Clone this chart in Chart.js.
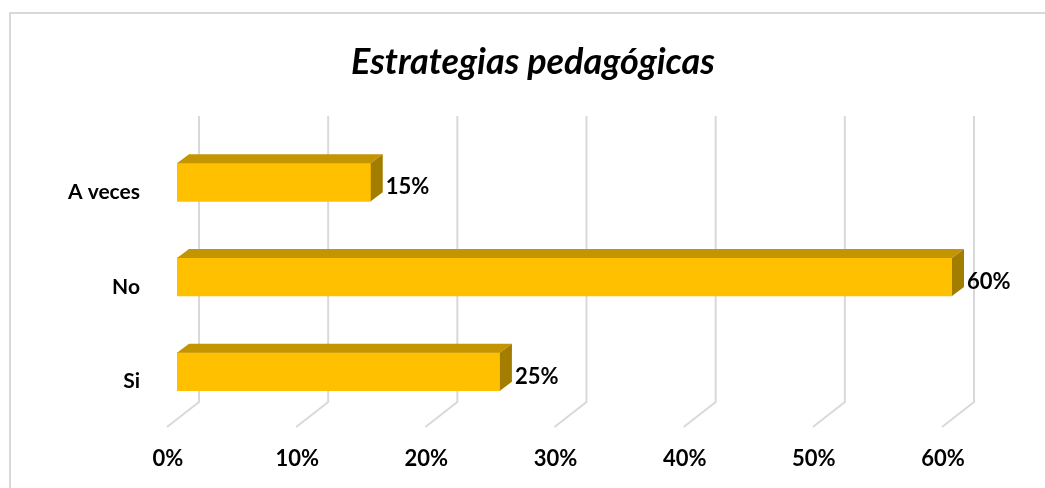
<!DOCTYPE html>
<html>
<head>
<meta charset="utf-8">
<script src="https://cdn.jsdelivr.net/npm/chart.js@4/dist/chart.umd.min.js"></script>
<style>
  html, body { margin: 0; padding: 0; background: #fff; overflow: hidden; }
  #wrap { position: relative; width: 1045px; height: 488px; }
  #frame { position: absolute; left: 9px; top: 12px; width: 1100px; height: 600px; border: 2px solid #d9d9d9; box-sizing: border-box; }
  canvas { position: absolute; left: 0; top: 0; }
</style>
</head>
<body>
<div id="wrap">
  <div id="frame"></div>
  <canvas id="chart" width="1045" height="488"></canvas>
</div>
<script>
  'use strict';

  var CATEGORIES = ['A veces', 'No', 'Si'];
  var VALUES = [15, 60, 25];
  var TICK_VALUES = [0, 10, 20, 30, 40, 50, 60];
  var TITLE = 'Estrategias pedagógicas';

  var FRONT_COLOR = '#FFC000';
  var TOP_COLOR = '#C39500';
  var SIDE_COLOR = '#A37D00';
  var GRID_COLOR = '#d9d9d9';
  var FONT = 'Lato, "Open Sans", sans-serif';

  // depth of the bars and of the back wall, in pixels
  var DEPTH_X = 12, DEPTH_Y = 9;
  var WALL_X = 22;

  // title sits a bit right of the canvas centre, like the original
  var titlePlugin = {
    id: 'title3d',
    afterDraw: function(chart) {
      var ctx = chart.ctx;
      ctx.save();
      ctx.fillStyle = '#000';
      ctx.font = 'italic bold 36px ' + FONT;
      ctx.textAlign = 'center';
      ctx.textBaseline = 'middle';
      ctx.fillText(TITLE, 533, 62);
      ctx.restore();
    }
  };

  // perspective gridlines: back wall + floor diagonal
  var gridPlugin = {
    id: 'grid3d',
    beforeDatasetsDraw: function(chart) {
      var ctx = chart.ctx;
      var area = chart.chartArea;
      var xScale = chart.scales.x;
      ctx.save();
      ctx.strokeStyle = GRID_COLOR;
      ctx.lineWidth = 2;
      TICK_VALUES.forEach(function(v) {
        var px = xScale.getPixelForValue(v) + WALL_X;
        ctx.beginPath();
        ctx.moveTo(px, area.top - 19);
        ctx.lineTo(px, area.bottom - 17);
        ctx.lineTo(px - 32, area.bottom + 8);
        ctx.stroke();
      });
      ctx.restore();
    }
  };

  // top and side faces of every bar, plus the value labels
  var barPlugin = {
    id: 'bars3d',
    afterDatasetsDraw: function(chart) {
      var ctx = chart.ctx;
      var meta = chart.getDatasetMeta(0);
      ctx.save();
      meta.data.forEach(function(bar, i) {
        var top = bar.y - bar.height / 2;
        var bottom = bar.y + bar.height / 2;
        var left = bar.base;
        var right = bar.x;

        ctx.fillStyle = TOP_COLOR;
        ctx.beginPath();
        ctx.moveTo(left, top);
        ctx.lineTo(left + DEPTH_X, top - DEPTH_Y);
        ctx.lineTo(right + DEPTH_X, top - DEPTH_Y);
        ctx.lineTo(right, top);
        ctx.closePath();
        ctx.fill();

        ctx.fillStyle = SIDE_COLOR;
        ctx.beginPath();
        ctx.moveTo(right, top);
        ctx.lineTo(right + DEPTH_X, top - DEPTH_Y);
        ctx.lineTo(right + DEPTH_X, bottom - DEPTH_Y);
        ctx.lineTo(right, bottom);
        ctx.closePath();
        ctx.fill();

        ctx.fillStyle = '#000';
        ctx.font = 'bold 22px ' + FONT;
        ctx.textAlign = 'left';
        ctx.textBaseline = 'middle';
        ctx.fillText(VALUES[i] + '%', right + 15, bar.y + 5);
      });
      ctx.restore();
    }
  };

  var ctx = document.getElementById('chart').getContext('2d');
  var myChart = new Chart(ctx, {
    type: 'bar',
    data: {
      labels: CATEGORIES,
      datasets: [{
        data: VALUES,
        backgroundColor: FRONT_COLOR,
        borderWidth: 0,
        barThickness: 38
      }]
    },
    options: {
      indexAxis: 'y',
      responsive: false,
      animation: false,
      layout: {
        padding: { top: 135, left: 20, right: 93, bottom: 0 }
      },
      plugins: {
        legend: { display: false },
        tooltip: { enabled: false },
        title: { display: false }
      },
      scales: {
        x: {
          min: 0,
          max: 60,
          grid: { display: false, drawTicks: false },
          border: { display: false },
          afterBuildTicks: function(scale) {
            scale.ticks = TICK_VALUES.map(function(v) { return { value: v }; });
          },
          afterFit: function(scale) { scale.height = 69; },
          ticks: {
            color: '#000',
            font: { family: FONT, size: 22, weight: 'bold' },
            padding: 27,
            labelOffset: -9,
            maxRotation: 0,
            callback: function(v) { return v + '%'; }
          }
        },
        y: {
          grid: { display: false, drawTicks: false },
          border: { display: false },
          afterFit: function(scale) { scale.width = 157; },
          ticks: {
            color: '#000',
            font: { family: FONT, size: 21, weight: 'bold' },
            padding: 37,
            labelOffset: 10
          }
        }
      }
    },
    plugins: [gridPlugin, barPlugin, titlePlugin]
  });
</script>
</body>
</html>
